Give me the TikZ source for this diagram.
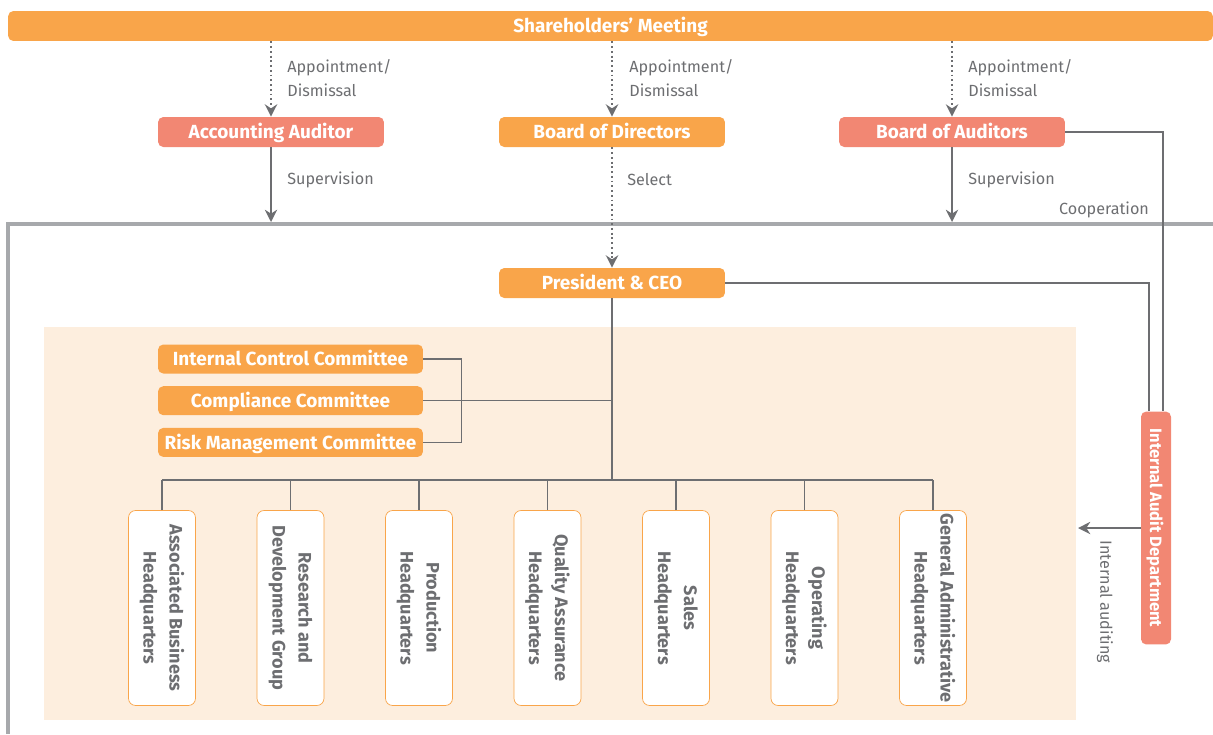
\documentclass[tikz,border=0pt]{standalone}
\usepackage{fontspec}
\setmainfont{Fira Sans}
\usetikzlibrary{arrows.meta}
\usetikzlibrary{positioning}
\definecolor{orgorange}{HTML}{F9A54A}
\definecolor{orgsalmon}{HTML}{F28773}
\definecolor{orggray}{HTML}{6D6E71}
\definecolor{orgframe}{HTML}{A7A9AC}
\definecolor{orgbeige}{HTML}{FDEEDE}

\begin{document}
\begin{tikzpicture}[x=0.02cm,y=-0.02cm]
\tikzset{orgbox/.style={rectangle,rounded corners=3pt,fill=orgorange,text=white,font=\bfseries\fontsize{10.8}{12}\selectfont,text height=8.6pt,text depth=1pt,minimum width=4.52cm,minimum height=0.6cm,inner sep=0pt}}
\tikzset{audbox/.style={orgbox,fill=orgsalmon}}
\tikzset{combox/.style={orgbox,minimum width=5.3cm,minimum height=0.58cm}}
\tikzset{hqbox/.style={rectangle,rounded corners=4pt,draw=orgorange,fill=white,text=orggray,font=\bfseries\fontsize{10.3}{14.8}\selectfont,align=center,rotate=-90,minimum width=3.9cm,minimum height=1.34cm,inner sep=0pt}}
\tikzset{lbl/.style={text=orggray,font=\fontsize{9.2}{13.6}\selectfont,align=left,inner sep=0pt}}
\tikzset{arr/.style={orggray,line width=0.9pt,-{Stealth[length=7pt,width=7pt]}}}
\tikzset{dotarr/.style={arr,line width=1.3pt,dash pattern=on 1.1pt off 1.6pt}}
\tikzset{conn/.style={orggray,line width=0.9pt}}
\useasboundingbox (0,0) rectangle (1213,734);
% frame and panel
\draw[orgframe,line width=2pt] (1213,224) -- (8,224) -- (8,734);
\coordinate (frame) at (8,222);
\fill[orgbeige] (44,327) rectangle (1076,720);
% top level
\node[orgbox,minimum width=24.1cm](share) at (610.5,26){Shareholders’ Meeting};
\node[audbox](acc) at (271,132){Accounting Auditor};
\node[orgbox](bod) at (612,132){Board of Directors};
\node[audbox](boa) at (952,132){Board of Auditors};
\node[orgbox](ceo) at (612,283){President \& CEO};
\draw[dotarr](share.south -| acc) -- (acc.north);
\draw[dotarr](share.south -| bod) -- (bod.north);
\draw[dotarr](share.south -| boa) -- (boa.north);
\node[lbl,anchor=west](l1) at (287,78){Appointment/\\Dismissal};
\node[lbl,anchor=west](l2) at (629,78){Appointment/\\Dismissal};
\node[lbl,anchor=west](l3) at (968,78){Appointment/\\Dismissal};
\draw[arr](acc.south) -- (acc.south |- frame);
\draw[arr](boa.south) -- (boa.south |- frame);
\draw[dotarr](bod.south) -- (ceo.north);
\node[lbl,anchor=west](s1) at (287,180){Supervision};
\node[lbl,anchor=west](s2) at (627,180){Select};
\node[lbl,anchor=west](s3) at (968,180){Supervision};
\node[lbl](coop) at (1104,210){Cooperation};
% internal audit
\node[audbox,rotate=-90,minimum width=4.66cm,font=\bfseries\fontsize{9.4}{12}\selectfont,text height=7.6pt](iad) at (1156,528){Internal Audit Department};
\draw[conn](ceo.east) -| ([xshift=-0.14cm]iad.west);
\draw[conn](boa.east) -| ([xshift=0.14cm]iad.west);
\coordinate (audtip) at (1078,528);
\draw[arr](iad.south) -- (audtip);
\node[lbl,rotate=-90](aud) at (1105,602){Internal auditing};
% committees
\node[combox](icc) at (290.5,359){Internal Control Committee};
\node[combox](cc)[below=0.24cm of icc]{Compliance Committee};
\node[combox](rmc)[below=0.24cm of cc]{Risk Management Committee};
\draw[conn](icc.east) -- ++(38,0) |- (rmc.east);
\draw[conn](cc.east) -- (cc -| ceo);
% headquarters
\coordinate (bus) at (612,480);
\draw[conn](ceo.south) -- (bus);
\foreach \t [count=\i] in {Associated Business\\Headquarters,Research and\\Development Group,Production\\Headquarters,Quality Assurance\\Headquarters,Sales\\Headquarters,Operating\\Headquarters,General Administrative\\Headquarters}
{
\node[hqbox](hq\i) at ({162+128.5*(\i-1)},608){\t};
\draw[conn](hq\i.west) -- (hq\i.west |- bus);
}
\draw[conn](hq1.west |- bus) -- (hq7.west |- bus);
\end{tikzpicture}
\end{document}
